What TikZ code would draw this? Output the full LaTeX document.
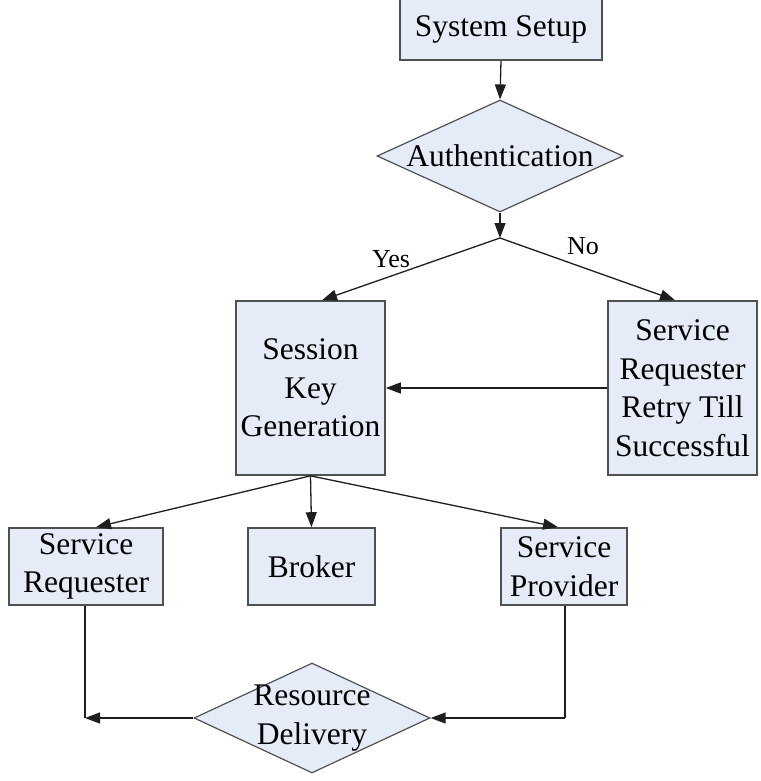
\documentclass[tikz,border=0pt]{standalone}
\usepackage{fontspec}
\setmainfont{Liberation Serif}
\usetikzlibrary{shapes.geometric,arrows.meta}
\definecolor{boxfill}{RGB}{230,236,247}
\definecolor{boxline}{RGB}{80,80,80}
\definecolor{conn}{RGB}{30,30,30}
\tikzset{
  txt/.style={font=\fontsize{31.5}{38.5}\selectfont, align=center, inner sep=0pt},
  lbl/.style={font=\fontsize{26}{30}\selectfont, inner sep=0pt},
  boxnode/.style={draw=boxline, line width=1.6pt, fill=boxfill, rectangle, inner sep=0pt,
    font=\fontsize{31.5}{38.5}\selectfont, align=center},
  dianode/.style={draw=boxline, line width=1.2pt, fill=boxfill, diamond, inner sep=0pt},
  arr/.style={draw=conn, line width=1.3pt, -{Triangle[length=15pt,width=11pt]}},
  ln/.style={draw=conn, line width=1.3pt}
}
\begin{document}
\begin{tikzpicture}[x=1pt,y=-1pt]
\useasboundingbox (0,0) rectangle (760,781);
\node[boxnode, minimum width=202pt, minimum height=62pt] (setup) at (501,29) {System Setup};
\node[dianode, minimum width=246pt, minimum height=112pt] (auth) at (500,156) {};
\node[txt] at (auth) {Authentication};
\coordinate (split) at (500,238);
\node[boxnode, minimum width=149pt, minimum height=174pt] (session) at (310.5,388) {Session\\Key\\Generation};
\node[boxnode, minimum width=149pt, minimum height=174pt] (retry) at (682.5,388) {Service\\Requester\\Retry Till\\Successful};
\node[boxnode, minimum width=154pt, minimum height=77pt] (req) at (86,566.5) {Service\\Requester};
\node[boxnode, minimum width=127pt, minimum height=77pt] (broker) at (311.5,566.5) {Broker};
\node[boxnode, minimum width=126pt, minimum height=77pt] (prov) at (564,566.5) {Service\\Provider};
\node[dianode, minimum width=236pt, minimum height=110pt] (deliv) at (312,718) {};
\node[txt] at (deliv) {Resource\\Delivery};
\coordinate (lcorner) at (85,718);
\coordinate (rcorner) at (565,718);
\node[lbl] (yes) at (391,259) {Yes};
\node[lbl] (no) at (583,246) {No};

\draw[arr] (setup.south) -- (auth.north);
\draw[arr] (auth.south) -- (split);
\draw[arr] (split) -- (session.north -| 322,0);
\draw[arr] (split) -- (retry.north -| 675,0);
\draw[arr] (retry.west) -- (session.east);
\draw[arr] (session.south) -- (req.north -| 96,0);
\draw[arr] (session.south) -- (broker.north);
\draw[arr] (session.south) -- (prov.north -| 558,0);
\draw[ln] (req.south -| lcorner) -- (lcorner);
\draw[arr] (deliv.west) -- (lcorner);
\draw[ln] (prov.south -| rcorner) -- (rcorner);
\draw[arr] (rcorner) -- (deliv.east);
\end{tikzpicture}
\end{document}
